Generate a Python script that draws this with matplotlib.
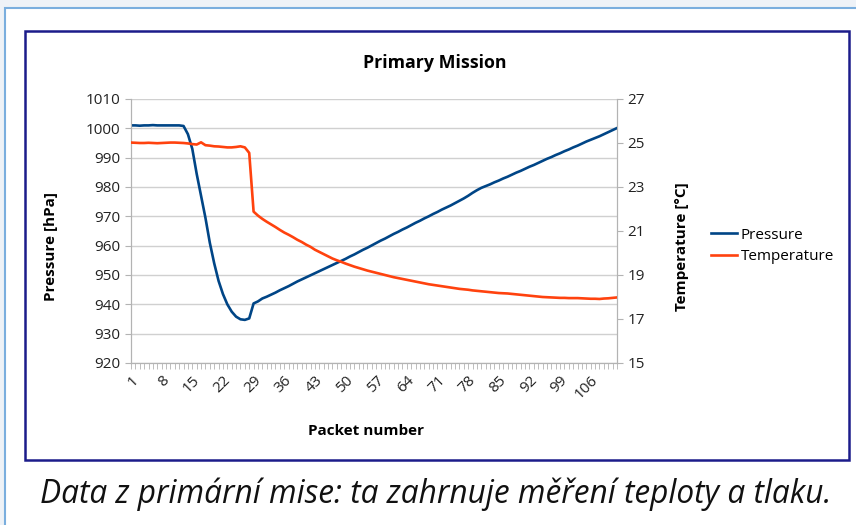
import matplotlib
matplotlib.use("Agg")
import matplotlib.pyplot as plt
from matplotlib.patches import Rectangle
import numpy as np

plt.rcParams['font.family'] = ['Open Sans', 'DejaVu Sans']

# packet numbers and readings
packets = list(range(1, 113))

pressure = [
    1001.0, 1001.0, 1000.9, 1001.0, 1001.0, 1001.1, 1001.0, 1001.0, 1001.0, 1001.0,
    1001.0, 1001.0, 1000.8, 998.0, 993.0, 984.5, 977.0, 969.5, 961.0, 954.0,
    948.0, 943.5, 940.0, 937.5, 935.8, 934.9, 934.7, 935.2, 940.3, 941.0,
    942.0, 942.6, 943.3, 944.0, 944.8, 945.5, 946.2, 947.0, 947.8, 948.5,
    949.2, 949.9, 950.6, 951.3, 952.0, 952.7, 953.4, 954.1, 954.8, 955.5,
    956.3, 957.0, 957.8, 958.6, 959.3, 960.1, 960.9, 961.7, 962.4, 963.2,
    964.0, 964.7, 965.5, 966.2, 967.0, 967.8, 968.5, 969.3, 970.0, 970.8,
    971.5, 972.3, 973.0, 973.7, 974.5, 975.3, 976.1, 977.0, 978.0, 978.9,
    979.7, 980.3, 980.9, 981.6, 982.2, 982.9, 983.5, 984.2, 984.9, 985.5,
    986.2, 986.9, 987.5, 988.2, 988.9, 989.6, 990.2, 990.9, 991.5, 992.2,
    992.8, 993.5, 994.1, 994.8, 995.5, 996.1, 996.7, 997.3, 998.0, 998.7,
    999.4, 1000.1,
]

temperature = [
    25.02, 25.01, 25.00, 25.00, 25.01, 25.00, 24.99, 25.00, 25.01, 25.02,
    25.02, 25.01, 25.00, 24.98, 24.95, 24.93, 25.03, 24.90, 24.88, 24.85,
    24.84, 24.82, 24.80, 24.80, 24.82, 24.85, 24.80, 24.55, 21.88, 21.70,
    21.55, 21.42, 21.30, 21.18, 21.05, 20.93, 20.83, 20.72, 20.60, 20.50,
    20.38, 20.28, 20.15, 20.05, 19.95, 19.85, 19.75, 19.67, 19.60, 19.52,
    19.45, 19.38, 19.32, 19.26, 19.20, 19.15, 19.10, 19.05, 19.00, 18.95,
    18.90, 18.86, 18.82, 18.78, 18.74, 18.70, 18.66, 18.62, 18.58, 18.55,
    18.52, 18.49, 18.46, 18.43, 18.40, 18.37, 18.35, 18.33, 18.30, 18.28,
    18.26, 18.24, 18.22, 18.20, 18.18, 18.17, 18.16, 18.14, 18.12, 18.10,
    18.08, 18.06, 18.04, 18.02, 18.00, 17.99, 17.98, 17.97, 17.96, 17.96,
    17.95, 17.95, 17.95, 17.94, 17.93, 17.92, 17.92, 17.91, 17.93, 17.94,
    17.96, 17.98,
]

label_ticks = list(range(1, 107, 7))
p_ticks = list(range(920, 1011, 10))
t_ticks = list(range(15, 28, 2))

W, H = 856, 525
fig = plt.figure(figsize=(W / 100, H / 100), dpi=100)
fig.patch.set_facecolor('#eef2f7')

def px(x, y, w, h):
    # pixel box (top-left origin) -> figure fraction
    return [x / W, 1 - (y + h) / H, w / W, h / H]

# white panel with light blue border
panel = Rectangle((5 / W, -0.1), 1.1, (H - 8) / H + 0.1, transform=fig.transFigure,
                  facecolor='white', edgecolor='#7aaede', linewidth=1.5, zorder=0)
fig.patches.append(panel)
# navy chart frame
frame = Rectangle((25 / W, 1 - 460 / H), 824 / W, 429 / H, transform=fig.transFigure,
                  facecolor='white', edgecolor='#1c1c8a', linewidth=1.8, zorder=1)
fig.patches.append(frame)

ax = fig.add_axes(px(131, 99, 486, 264))
ax.set_zorder(3)
ax2 = ax.twinx()

blue, orange = '#004586', '#ff420e'
grid_c, axis_c = '#d0d0d0', '#b3b3b3'

l1, = ax.plot(packets, pressure, color=blue, lw=1.9, label='Pressure', zorder=4)
l2, = ax2.plot(packets, temperature, color=orange, lw=1.9, label='Temperature', zorder=4)

ax.set_xlim(1, 112)
ax.set_ylim(920, 1010)
ax2.set_ylim(15, 27)
ax.set_yticks(p_ticks)
ax2.set_yticks(t_ticks)
ax.grid(axis='y', color=grid_c, lw=1.0)
ax.set_axisbelow(True)

ax.set_xticks(label_ticks)
ax.set_xticks([p for p in packets if p not in label_ticks], minor=True)
ax.set_xticklabels([str(t) for t in label_ticks], rotation=45, ha='right',
                   rotation_mode='anchor')

for a in (ax, ax2):
    for s in a.spines.values():
        s.set_color(axis_c)
    a.spines['top'].set_visible(False)
    a.tick_params(colors=axis_c, labelcolor='#222222', labelsize=11, length=4, width=0.8)
ax.tick_params(axis='x', which='both', length=4, width=0.6, colors=axis_c,
               labelcolor='#222222', labelsize=11, pad=3)

ax.set_ylabel('Pressure [hPa]', fontsize=11, fontweight='bold')
ax2.set_ylabel('Temperature [°C]', fontsize=11, fontweight='bold')
ax.yaxis.set_label_coords(-0.150, 0.44)
ax2.yaxis.set_label_coords(1.119, 0.44)

fig.text(435 / W, 1 - 63 / H, 'Primary Mission', ha='center', va='center',
         fontsize=12.8, fontweight='bold')
fig.text(366 / W, 1 - 431 / H, 'Packet number', ha='center', va='center',
         fontsize=11, fontweight='bold')

fig.legend(handles=[l1, l2], loc='center left', bbox_to_anchor=(705 / W, 1 - 246 / H),
           frameon=False, fontsize=11, handlelength=1.7, handletextpad=0.25,
           labelspacing=0.45, borderaxespad=0)

fig.text(436 / W, 1 - 503 / H, 'Data z primární mise: ta zahrnuje měření teploty a tlaku.',
         ha='center', va='baseline', fontsize=22.8, style='italic', color='#111111')

fig.savefig('out.png', dpi=100, facecolor=fig.get_facecolor())
